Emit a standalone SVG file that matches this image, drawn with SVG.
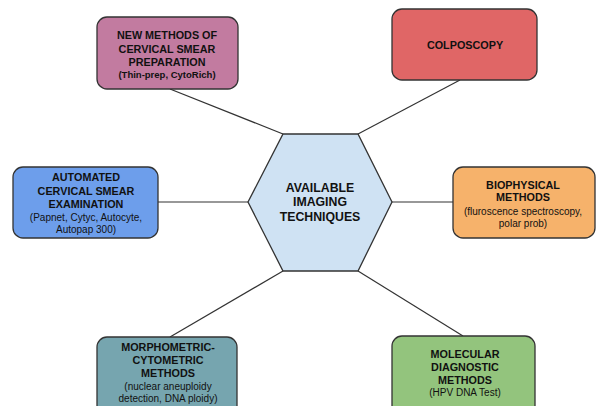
<svg xmlns="http://www.w3.org/2000/svg" width="598" height="406" viewBox="0 0 598 406">
<style>
.box{stroke:#333333;stroke-width:1.3}
.h{font-family:"Liberation Sans",Arial,sans-serif;font-weight:bold;font-size:10.8px;fill:#111111;text-anchor:middle}
.s{font-family:"Liberation Sans",Arial,sans-serif;font-size:10px;fill:#111111;text-anchor:middle}
.sb{font-family:"Liberation Sans",Arial,sans-serif;font-weight:bold;font-size:9.5px;fill:#111111;text-anchor:middle}
.c{stroke:#333333;stroke-width:1.2;fill:none}
</style>
<rect width="598" height="406" fill="#ffffff"/>
<g id="connectors">
<line class="c" x1="283" y1="134" x2="170" y2="89"/>
<line class="c" x1="358" y1="134" x2="460" y2="80"/>
<line class="c" x1="248" y1="202" x2="158" y2="202"/>
<line class="c" x1="392" y1="202" x2="453" y2="202"/>
<line class="c" x1="283" y1="271" x2="170" y2="337"/>
<line class="c" x1="358" y1="271" x2="463" y2="336"/>
</g>
<g id="center">
<polygon class="box" points="283,134 358,134 392,202 358,271 283,271 248,202" fill="#CFE2F3"/>
<text class="h" style="font-size:12.3px" x="320" y="192">AVAILABLE</text>
<text class="h" style="font-size:12.3px" x="320" y="206">IMAGING</text>
<text class="h" style="font-size:12.3px" x="320" y="221">TECHNIQUES</text>
</g>
<g id="new-methods">
<rect class="box" x="97" y="17" width="141" height="72" rx="10" fill="#C27BA0"/>
<text class="h" x="167" y="39">NEW METHODS OF</text>
<text class="h" x="167" y="53">CERVICAL SMEAR</text>
<text class="h" x="167" y="66">PREPARATION</text>
<text class="sb" x="167" y="78">(Thin-prep, CytoRich)</text>
</g>
<g id="colposcopy">
<rect class="box" x="392" y="9" width="145" height="71" rx="10" fill="#E06666"/>
<text class="h" x="465" y="49">COLPOSCOPY</text>
</g>
<g id="automated">
<rect class="box" x="13" y="167" width="145" height="71" rx="10" fill="#6D9EEB"/>
<text class="h" x="86" y="181">AUTOMATED</text>
<text class="h" x="86" y="195">CERVICAL SMEAR</text>
<text class="h" x="86" y="208">EXAMINATION</text>
<text class="s" x="86" y="221">(Papnet, Cytyc, Autocyte,</text>
<text class="s" x="86" y="233">Autopap 300)</text>
</g>
<g id="biophysical">
<rect class="box" x="453" y="167" width="142" height="71" rx="10" fill="#F6B26B"/>
<text class="h" x="523" y="189">BIOPHYSICAL</text>
<text class="h" x="523" y="201">METHODS</text>
<text class="s" x="523" y="215">(fluroscence spectroscopy,</text>
<text class="s" x="523" y="227">polar prob)</text>
</g>
<g id="morphometric">
<rect class="box" x="97" y="337" width="140" height="80" rx="10" fill="#76A5AF"/>
<text class="h" x="168" y="351">MORPHOMETRIC-</text>
<text class="h" x="168" y="364">CYTOMETRIC</text>
<text class="h" x="168" y="377">METHODS</text>
<text class="s" x="168" y="390">(nuclear aneuploidy</text>
<text class="s" x="168" y="402">detection, DNA ploidy)</text>
</g>
<g id="molecular">
<rect class="box" x="392" y="336" width="143" height="80" rx="10" fill="#93C47D"/>
<text class="h" x="465" y="358">MOLECULAR</text>
<text class="h" x="465" y="371">DIAGNOSTIC</text>
<text class="h" x="465" y="384">METHODS</text>
<text class="s" x="465" y="396">(HPV DNA Test)</text>
</g>
</svg>
